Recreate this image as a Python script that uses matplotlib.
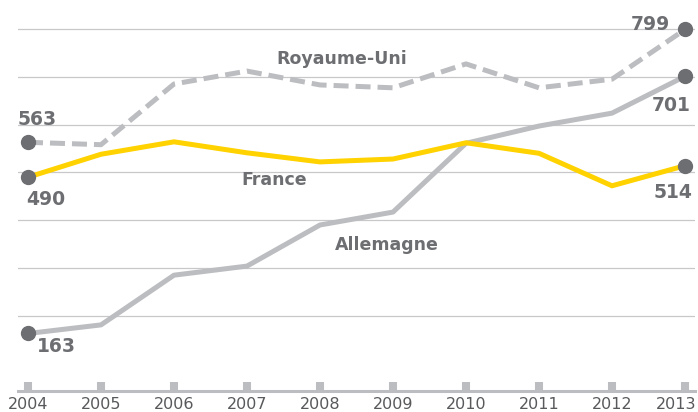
import matplotlib
matplotlib.use("Agg")
import matplotlib.pyplot as plt
import matplotlib.transforms as mtransforms

years = [2004, 2005, 2006, 2007, 2008, 2009, 2010, 2011, 2012, 2013]
royaume_uni = [563, 558, 685, 712, 683, 677, 727, 677, 695, 799]
france = [490, 538, 564, 541, 522, 528, 562, 540, 472, 514]
allemagne = [163, 181, 285, 304, 390, 417, 561, 597, 624, 701]

grid_values = [200, 300, 400, 500, 600, 700, 800]

light_gray = "#bcbdc0"
grid_gray = "#c8c8ca"
dark_gray = "#6d6e71"
yellow = "#ffd200"

plt.rcParams["font.family"] = ["DejaVu Sans"]

fig = plt.figure(figsize=(6.98, 4.12), dpi=100)
ax = fig.add_axes([18 / 698, 21 / 412, 677 / 698, 391 / 412])

for v in grid_values:
    ax.axhline(v, color=grid_gray, lw=0.9, zorder=1)

ax.plot(years, allemagne, color=light_gray, lw=3.6, solid_capstyle="butt", zorder=3)
ax.plot(years, royaume_uni, color=light_gray, lw=3.6, dashes=(3, 1.4),
        dash_capstyle="butt", zorder=3)
ax.plot(years, france, color=yellow, lw=3.6, solid_capstyle="butt", zorder=4)

for series in (royaume_uni, france, allemagne):
    ax.plot([years[0], years[-1]], [series[0], series[-1]], "o",
            color=dark_gray, ms=10, zorder=5)

lab = dict(color=dark_gray, fontsize=13.5, fontweight="bold", va="center")
ax.text(2003.86, 610, str(royaume_uni[0]), ha="left", **lab)
ax.text(2003.97, 444, str(france[0]), ha="left", **lab)
ax.text(2004.12, 135, str(allemagne[0]), ha="left", **lab)
ax.text(2012.79, 810, str(royaume_uni[-1]), ha="right", **lab)
ax.text(2013.08, 639, str(allemagne[-1]), ha="right", **lab)
ax.text(2013.10, 459, str(france[-1]), ha="right", **lab)

name = dict(color=dark_gray, fontsize=12.5, fontweight="bold", va="center", ha="center")
ax.text(2008.3, 737, "Royaume-Uni", **name)
ax.text(2007.37, 484, "France", **name)
ax.text(2008.92, 348, "Allemagne", **name)

ax.set_xlim(2003.863, 2013.137)
ax.set_ylim(42.7, 860.7)
ax.set_xticks(years)
ax.set_xticklabels([str(y) for y in years])
ax.set_yticks([])
for side in ("top", "left", "right"):
    ax.spines[side].set_visible(False)
ax.spines["bottom"].set_color(light_gray)
ax.spines["bottom"].set_linewidth(2.2)
ax.tick_params(axis="x", direction="in", length=6.5, width=5.8, color=light_gray,
               pad=4.5, labelsize=11.5, labelcolor="#58595b")

# last year label sits a little to the left so it stays inside the picture
last = ax.get_xticklabels()[-1]
shift = mtransforms.ScaledTranslation(-9 / 100, 0, fig.dpi_scale_trans)
last.set_transform(last.get_transform() + shift)

fig.savefig("out.png", dpi=100)
